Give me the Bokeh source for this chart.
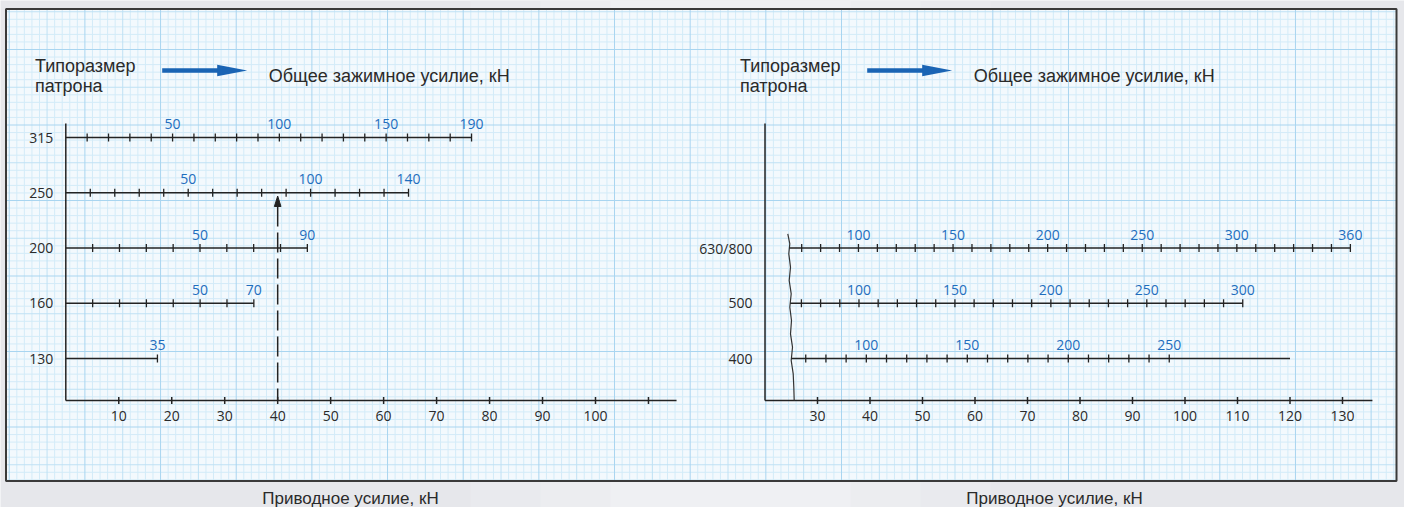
import numpy as np
from bokeh.plotting import figure
from bokeh.models import Range1d
from bokeh.core.properties import value
from bokeh.embed import file_html
from bokeh.resources import INLINE

# ---------------- data ----------------
# left chart: chuck sizes and their clamping-force scales
left_sizes = ["130", "160", "200", "250", "315"]
left_force_first = [35, 10, 10, 10, 10]          # first tick on each scale, kN
left_force_max = [35, 70, 90, 140, 190]          # total clamping force at end of scale, kN
left_drive_max = [17.3, 35.5, 45.6, 64.7, 76.6]  # actuating force at end of scale, kN
left_force_labels = [[35], [50, 70], [50, 90], [50, 100, 140], [50, 100, 150, 190]]
left_axis_ticks = [10, 20, 30, 40, 50, 60, 70, 80, 90, 100, 110]
left_axis_labels = ["10", "20", "30", "40", "50", "60", "70", "80", "90", "100", ""]
left_axis_end = 115.3
example_drive = 40

# right chart
right_sizes = ["400", "500", "630/800"]
right_force_a = [100, 100, 100]
right_drive_a = [39.3, 37.9, 37.8]
right_force_b = [250, 300, 360]
right_drive_b = [97.0, 111.0, 131.5]
right_force_first = [70, 70, 70]
right_force_max = [250, 300, 360]
right_line_end = [120.0, 111.0, 131.5]
right_force_labels = [[100, 150, 200, 250], [100, 150, 200, 250, 300],
                      [100, 150, 200, 250, 300, 360]]
right_axis_start = 20
right_axis_ticks = [30, 40, 50, 60, 70, 80, 90, 100, 110, 120, 130]
right_axis_labels = [str(v) for v in right_axis_ticks]
right_axis_end = 135.7

header_left = "Типоразмер"
header_left2 = "патрона"
header_right = "Общее зажимное усилие, кН"
x_title = "Приводное усилие, кН"

# ---------------- geometry helpers ----------------
W, H = 1404, 507
PX0, PY0 = 0, 0
LX0, LK = 65.3, 5.297
RX0, RK = 659.5, 5.25
SY0, SK = 413.25, 55.25

def lx(px):
    return (px - LX0) / LK

def rx(px):
    return (px - RX0) / RK

def sy(py):
    return (SY0 - py) / SK

AXIS_Y = sy(400)
DARK = "#232323"
BLUE = "#1e6ebe"
NUM_FONT = value("Open Sans")
TXT_FONT = value("Liberation Sans")

p = figure(width=W, height=H, output_backend="svg", toolbar_location=None,
           x_range=Range1d(lx(PX0), lx(PX0 + W)),
           y_range=Range1d(sy(PY0 + H), sy(PY0)),
           x_axis_type=None, y_axis_type=None, min_border=0)
p.extra_x_ranges = {"r": Range1d(rx(PX0), rx(PX0 + W))}
p.outline_line_color = None
p.background_fill_color = "#e6e7eb"
p.border_fill_color = "#e6e7eb"
p.xgrid.visible = False
p.ygrid.visible = False

# soft lighter glow in the surrounding background
for half_w, col in [(260, "#e9eaee"), (190, "#ecedf0"), (120, "#eff0f3")]:
    p.quad(left=[lx(730 - half_w)], right=[lx(730 + half_w)], top=[sy(0)], bottom=[sy(507)],
           fill_color=col, line_color=None)

# ---------------- graph paper box ----------------
bx0, bx1, by0, by1 = 5.5, 1396, 8.5, 480.5
p.quad(left=[lx(bx0)], right=[lx(bx1)], top=[sy(by0)], bottom=[sy(by1)],
       fill_color="#f3f9fd", line_color=None)

step_x, phase_x = 7.566, 462.7
ks = np.arange(int(np.floor((bx0 - phase_x) / step_x)), int(np.ceil((bx1 - phase_x) / step_x)) + 1)
vx = phase_x + ks * step_x
keep = (vx > bx0 + 1) & (vx < bx1 - 1)
vx, ks = vx[keep], ks[keep]
step_y, phase_y = 7.55, 200.0
js = np.arange(int(np.floor((by0 - phase_y) / step_y)), int(np.ceil((by1 - phase_y) / step_y)) + 1)
hy = phase_y + js * step_y
keep = (hy > by0 + 1) & (hy < by1 - 1)
hy, js = hy[keep], js[keep]

for mod, col in [(1, "#d3ebf8"), (5, "#bfe1f4"), (10, "#a9d5f0")]:
    if mod == 1:
        sel_v = (ks % 5) != 0
        sel_h = (js % 5) != 0
    elif mod == 5:
        sel_v = ((ks % 5) == 0) & ((ks % 10) != 0)
        sel_h = ((js % 5) == 0) & ((js % 10) != 0)
    else:
        sel_v = (ks % 10) == 0
        sel_h = (js % 10) == 0
    xs = lx(vx[sel_v])
    p.segment(x0=xs, x1=xs, y0=[sy(by0)] * len(xs), y1=[sy(by1)] * len(xs),
              line_color=col, line_width=1)
    ys = sy(hy[sel_h])
    p.segment(x0=[lx(bx0)] * len(ys), x1=[lx(bx1)] * len(ys), y0=ys, y1=ys,
              line_color=col, line_width=1)

p.quad(left=[lx(bx0)], right=[lx(bx1)], top=[sy(by0)], bottom=[sy(by1)],
       fill_color=None, line_color="#3a3a3a", line_width=2)

# ---------------- headers ----------------
def header(dx):
    p.text(x=[lx(34.5 + dx)] * 2, y=[sy(65), sy(85)], text=[header_left, header_left2],
           text_font=TXT_FONT, text_font_size="18px", text_color="#2a2a2a",
           text_align="left", text_baseline="alphabetic")
    p.quad(left=[lx(161.7 + dx)], right=[lx(218 + dx)], top=[sy(67.7)], bottom=[sy(72.3)],
           fill_color="#1a64b4", line_color=None)
    p.patch(x=[lx(216.7 + dx), lx(246.7 + dx), lx(216.7 + dx)],
            y=[sy(64.3), sy(70), sy(75.7)], fill_color="#1a64b4", line_color=None)
    p.text(x=[lx(268.3 + dx)], y=[sy(75.5)], text=[header_right],
           text_font=TXT_FONT, text_font_size="18px", text_color="#2a2a2a",
           text_align="left", text_baseline="alphabetic")

header(0)
header(705)

# bottom titles
p.text(x=[lx(350), lx(1054)], y=[sy(498)] * 2, text=[x_title, x_title],
       text_font=TXT_FONT, text_font_size="17px", text_color="#2a2a2a",
       text_align="center", text_baseline="alphabetic")

# ---------------- left chart ----------------
slots_left = list(range(1, len(left_sizes) + 1))
p.segment(x0=[0], x1=[0], y0=[AXIS_Y], y1=[sy(123)], line_color=DARK, line_width=1.5)
p.segment(x0=[0], x1=[left_axis_end], y0=[AXIS_Y], y1=[AXIS_Y], line_color=DARK, line_width=1.5)
p.scatter(x=left_axis_ticks, y=[AXIS_Y] * len(left_axis_ticks), marker="dash",
          angle=np.pi / 2, size=7, line_color=DARK, line_width=1.5)
p.text(x=left_axis_ticks, y=[AXIS_Y - 15 / SK] * len(left_axis_ticks), text=left_axis_labels,
       text_font=NUM_FONT, text_font_size="14px", text_color="#2a2a2a",
       text_align="center", text_baseline="middle")
p.text(x=[-12.5 / LK] * len(left_sizes), y=slots_left, text=left_sizes,
       text_font=NUM_FONT, text_font_size="14px", text_color="#2a2a2a",
       text_align="right", text_baseline="middle")

for s, f0, fmax, dmax, labs in zip(slots_left, left_force_first, left_force_max,
                                   left_drive_max, left_force_labels):
    ratio = dmax / fmax
    p.segment(x0=[0], x1=[dmax], y0=[s], y1=[s], line_color=DARK, line_width=1.5)
    forces = list(range(f0, fmax + 1, 10))
    if forces[-1] != fmax:
        forces.append(fmax)
    tx = [f * ratio for f in forces]
    p.scatter(x=tx, y=[s] * len(tx), marker="dash", angle=np.pi / 2, size=8,
              line_color=DARK, line_width=1.3)
    p.text(x=[f * ratio for f in labs], y=[s + 13.5 / SK] * len(labs),
           text=[str(f) for f in labs], text_font=NUM_FONT, text_font_size="14px",
           text_color=BLUE, text_align="center", text_baseline="middle")

# example reading: dashed line with arrow
tip_y = sy(195.5)
base_y = sy(206)
p.segment(x0=[example_drive], x1=[example_drive], y0=[base_y], y1=[AXIS_Y],
          line_color=DARK, line_width=1.5, line_dash="20 6")
p.patch(x=[example_drive - 3.3 / LK, example_drive, example_drive + 3.3 / LK],
        y=[base_y, tip_y, base_y], fill_color=DARK, line_color=DARK, line_width=1)

# ---------------- right chart ----------------
slots_right = list(range(1, len(right_sizes) + 1))
p.segment(x0=[right_axis_start], x1=[right_axis_start], y0=[AXIS_Y], y1=[sy(123)],
          line_color=DARK, line_width=1.5, x_range_name="r")
p.segment(x0=[right_axis_start], x1=[right_axis_end], y0=[AXIS_Y], y1=[AXIS_Y],
          line_color=DARK, line_width=1.5, x_range_name="r")
p.scatter(x=right_axis_ticks, y=[AXIS_Y] * len(right_axis_ticks), marker="dash",
          angle=np.pi / 2, size=7, line_color=DARK, line_width=1.5, x_range_name="r")
p.text(x=right_axis_ticks, y=[AXIS_Y - 15 / SK] * len(right_axis_ticks), text=right_axis_labels,
       text_font=NUM_FONT, text_font_size="14px", text_color="#2a2a2a",
       text_align="center", text_baseline="middle", x_range_name="r")
p.text(x=[right_axis_start - 12.5 / RK] * len(right_sizes), y=slots_right, text=right_sizes,
       text_font=NUM_FONT, text_font_size="14px", text_color="#2a2a2a",
       text_align="right", text_baseline="middle", x_range_name="r")

# scale break (wavy line)
wave_px = [(787.3, 233.3), (789.3, 243.3), (788.3, 253.3), (790.0, 266.7), (788.7, 280.0),
           (790.7, 293.3), (789.3, 306.7), (791.0, 320.0), (790.0, 333.3), (792.0, 346.7),
           (790.7, 360.0), (792.7, 373.3), (793.3, 386.7), (793.7, 400.0)]
wx = np.array([rx(a) for a, b in wave_px])
wy = np.array([sy(b) for a, b in wave_px])
p.line(x=wx, y=wy, line_color="#333333", line_width=1.2, x_range_name="r")

for s, fa, da, fb, db, f0, fmax, dend, labs in zip(slots_right, right_force_a, right_drive_a,
                                                   right_force_b, right_drive_b, right_force_first,
                                                   right_force_max, right_line_end,
                                                   right_force_labels):
    k = (db - da) / (fb - fa)
    pos = lambda f: da + (f - fa) * k
    x_start = float(np.interp(s, wy[::-1], wx[::-1]))
    p.segment(x0=[x_start], x1=[dend], y0=[s], y1=[s], line_color=DARK, line_width=1.5,
              x_range_name="r")
    forces = list(range(f0, fmax + 1, 10))
    tx = [pos(f) for f in forces]
    p.scatter(x=tx, y=[s] * len(tx), marker="dash", angle=np.pi / 2, size=8,
              line_color=DARK, line_width=1.3, x_range_name="r")
    p.text(x=[pos(f) for f in labs], y=[s + 13.5 / SK] * len(labs),
           text=[str(f) for f in labs], text_font=NUM_FONT, text_font_size="14px",
           text_color=BLUE, text_align="center", text_baseline="middle", x_range_name="r")

open("out.html", "w").write(file_html(p, INLINE))
